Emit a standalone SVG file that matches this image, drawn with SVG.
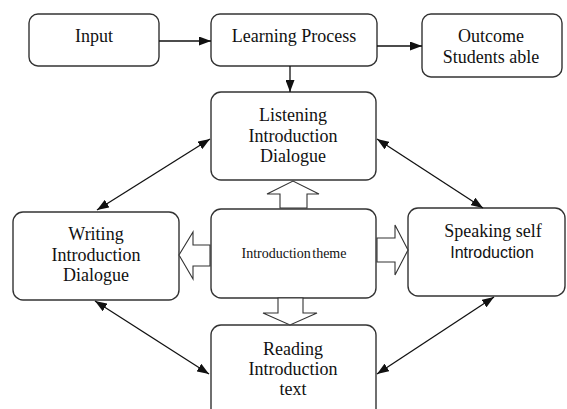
<svg xmlns="http://www.w3.org/2000/svg" width="567" height="409" viewBox="0 0 567 409">
<style>
.box{fill:#fff;stroke:#333;stroke-width:1.4}
.t{font-family:"Liberation Serif","Times New Roman",serif;font-size:18px;fill:#111;text-anchor:middle}
.s{font-family:"Liberation Sans",Arial,sans-serif;font-size:16px;fill:#111;text-anchor:middle}
.con{stroke:#111;stroke-width:1.3;fill:none}
.hollow{fill:#fff;stroke:#333;stroke-width:1.1;stroke-linejoin:miter}
</style>
<defs>
<marker id="ah" viewBox="0 0 12 9" refX="12" refY="4.5" markerWidth="12" markerHeight="9" markerUnits="userSpaceOnUse" orient="auto-start-reverse">
<path d="M0,0 L12,4.5 L0,9 z" fill="#111"/>
</marker>
</defs>
<rect width="567" height="409" fill="#fff"/>
<g id="input"><rect class="box" x="29" y="14" width="130" height="52" rx="9"/><text class="t" x="94" y="42">Input</text></g>
<g id="learning"><rect class="box" x="211" y="14" width="166" height="52" rx="9"/><text class="t" x="294" y="42">Learning Process</text></g>
<g id="outcome"><rect class="box" x="422" y="14" width="140" height="63" rx="9"/><text class="t" x="491" y="42">Outcome</text><text class="t" x="491" y="63">Students able</text></g>
<g id="listening"><rect class="box" x="211" y="92" width="165" height="88" rx="10"/><text class="t" x="293" y="121">Listening</text><text class="t" x="293" y="142">Introduction</text><text class="t" x="293" y="162">Dialogue</text></g>
<g id="writing"><rect class="box" x="13" y="212" width="166" height="88" rx="10"/><text class="t" x="96" y="240">Writing</text><text class="t" x="96" y="261">Introduction</text><text class="t" x="96" y="281">Dialogue</text></g>
<g id="theme"><rect class="box" x="211" y="209" width="165" height="89" rx="10"/><text class="t" x="294" y="258" style="font-size:14px;word-spacing:-2px">Introduction theme</text></g>
<g id="speaking"><rect class="box" x="408" y="208" width="157" height="88" rx="10"/><text class="t" x="493" y="237">Speaking self</text><text class="s" x="492" y="258">Introduction</text></g>
<g id="reading"><rect class="box" x="211" y="325" width="165" height="100" rx="10"/><text class="t" x="293" y="355">Reading</text><text class="t" x="293" y="375">Introduction</text><text class="t" x="293" y="395">text</text></g>
<g id="connectors">
<line class="con" x1="159" y1="41" x2="211" y2="41" marker-end="url(#ah)"/>
<line class="con" x1="377" y1="46" x2="422" y2="46" marker-end="url(#ah)"/>
<line class="con" x1="290" y1="66" x2="290" y2="92" marker-end="url(#ah)"/>
<line class="con" x1="97" y1="210" x2="210" y2="139" marker-start="url(#ah)" marker-end="url(#ah)"/>
<line class="con" x1="377" y1="139" x2="483" y2="208" marker-start="url(#ah)" marker-end="url(#ah)"/>
<line class="con" x1="95" y1="301" x2="209" y2="374" marker-start="url(#ah)" marker-end="url(#ah)"/>
<line class="con" x1="377" y1="374" x2="494" y2="297" marker-start="url(#ah)" marker-end="url(#ah)"/>
<polygon class="hollow" points="280,208 280,194 267,194 293,181 319,194 307,194 307,208"/>
<polygon class="hollow" points="210,245 193,245 193,232 179,255 193,279 193,266 210,266"/>
<polygon class="hollow" points="377,238 395,238 395,225 408,250 395,275 395,262 377,262"/>
<polygon class="hollow" points="278,298 278,313 263,313 290,325 317,313 303,313 303,298"/>
</g>
</svg>
